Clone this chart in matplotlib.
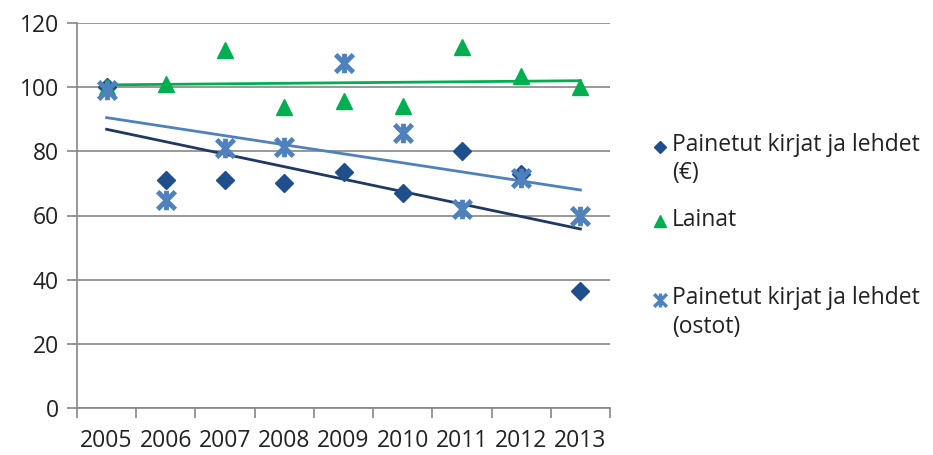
import numpy as np
import matplotlib
matplotlib.use("Agg")
import matplotlib.pyplot as plt
from matplotlib.lines import Line2D
from matplotlib.path import Path

plt.rcParams['font.family'] = ['Open Sans', 'DejaVu Sans']

years = ['2005', '2006', '2007', '2008', '2009', '2010', '2011', '2012', '2013']
euros = [100, 71, 71, 70, 73.5, 67, 80, 73, 36.5]
loans = [100, 101, 111.6, 93.8, 95.8, 94, 112.6, 103.5, 100]
purchases = [99, 64.8, 81, 81.3, 107.6, 85.8, 62, 71.6, 60]

c_dark = '#1F4E8C'
c_dark_line = '#1F3864'
c_green = '#00B050'
c_light = '#4F81BD'
grid_c = '#868686'

# excel style star: X plus a vertical stroke
star = Path([(-1, -1), (1, 1), (-1, 1), (1, -1), (0, -1.1), (0, 1.1)],
            [Path.MOVETO, Path.LINETO, Path.MOVETO, Path.LINETO,
             Path.MOVETO, Path.LINETO])

fig = plt.figure(figsize=(9.33, 4.55), dpi=100)
ax = fig.add_axes([77/933, 1 - 408/455, (610 - 77)/933, (408 - 23)/455])

x = np.arange(len(years))

# trend lines (linear fits)
for vals, col in [(euros, c_dark_line), (loans, c_green), (purchases, c_light)]:
    k, b = np.polyfit(x, vals, 1)
    ax.plot(x, k * x + b, color=col, lw=2, zorder=3)

ax.plot(x, euros, 'D', color=c_dark, ms=9, ls='none', zorder=4)
ax.plot(x, loans, '^', color=c_green, ms=12, ls='none', zorder=4)
ax.plot(x, purchases, marker=star, color=c_light, ms=14, mew=3.5,
        ls='none', zorder=5)

ax.set_xlim(-0.5, len(years) - 0.5)
ax.set_ylim(0, 120)
ax.set_yticks(np.arange(0, 121, 20))
ax.yaxis.grid(True, color=grid_c, lw=1.2)
ax.set_axisbelow(True)

ax.set_xticks(np.arange(-0.5, len(years), 1.0))
ax.set_xticklabels([])
ax.set_xticks(x, minor=True)
ax.set_xticklabels(years, minor=True)
ax.tick_params(axis='x', which='minor', length=0, pad=15, labelsize=16.5,
               colors='#222222')
ax.tick_params(axis='x', which='major', length=7, color=grid_c, width=1.2)
ax.tick_params(axis='y', length=7, color=grid_c, width=1.2, labelsize=16.5,
               labelcolor='#222222', pad=6)

for s in ['top', 'right']:
    ax.spines[s].set_visible(False)
for s in ['left', 'bottom']:
    ax.spines[s].set_color(grid_c)
    ax.spines[s].set_linewidth(1.2)

# legend on the right
def fx(px):
    return px / 933

def fy(py):
    return 1 - py / 455

fig.add_artist(Line2D([fx(660)], [fy(147)], marker='D', color=c_dark, ms=6,
                      transform=fig.transFigure))
fig.add_artist(Line2D([fx(660)], [fy(221)], marker='^', color=c_green, ms=9,
                      transform=fig.transFigure))
fig.add_artist(Line2D([fx(660)], [fy(300)], marker=star, color=c_light,
                      ms=10, mew=2.5, transform=fig.transFigure))

leg_txt = [("Painetut kirjat ja lehdet", 145), ("(€)", 173),
           ("Lainat", 220),
           ("Painetut kirjat ja lehdet", 298), ("(ostot)", 327)]
for t, py in leg_txt:
    fig.text(fx(672), fy(py), t, fontsize=16.5, va='center', ha='left',
             color='#222222')

fig.savefig('out.png', dpi=100)
